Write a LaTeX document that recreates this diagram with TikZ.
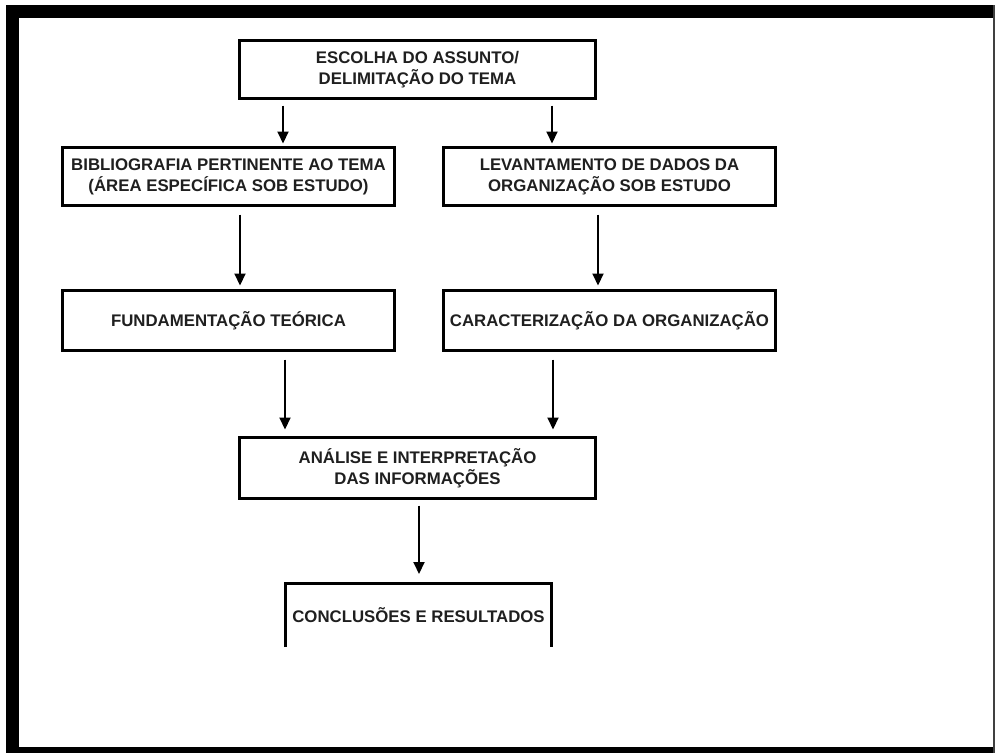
\documentclass[tikz,border=0pt]{standalone}
\usepackage{fontspec}
\setmainfont{Liberation Sans}
\usetikzlibrary{arrows.meta,calc}

\tikzset{
  stepbox/.style={draw=black, line width=3pt, fill=white, rectangle,
    inner sep=0pt, outer sep=0pt, align=center, text=black!88,
    font=\fontsize{16.8}{21}\selectfont\bfseries},
  openbox/.style={rectangle, inner sep=0pt, outer sep=0pt, align=center,
    text=black!88, font=\fontsize{16.8}{21}\selectfont\bfseries},
  flow/.style={line width=2pt, -{Triangle[length=12pt,width=11pt]}},
}

\begin{document}
\begin{tikzpicture}[x=1pt,y=-1pt]
  \useasboundingbox (0,0) rectangle (995,753);
  \fill[white] (0,0) rectangle (995,753);

  % outer frame
  \fill[black] (6,5) rectangle (995,18);
  \fill[black] (6,5) rectangle (19,753);
  \fill[black] (6,747) rectangle (995,753);
  \fill[black!75] (993,5) rectangle (995,753);

  % boxes
  \node[stepbox, minimum width=356pt, minimum height=58pt] (b1) at (417.5,69.5)
    {ESCOLHA DO ASSUNTO/\\DELIMITAÇÃO DO TEMA};
  \node[stepbox, minimum width=332pt, minimum height=58pt] (b2) at (228.5,176.5)
    {BIBLIOGRAFIA PERTINENTE AO TEMA\\(ÁREA ESPECÍFICA SOB ESTUDO)};
  \node[stepbox, minimum width=332pt, minimum height=58pt] (b3) at (609.5,176.5)
    {LEVANTAMENTO DE DADOS DA\\ORGANIZAÇÃO SOB ESTUDO};
  \node[stepbox, minimum width=332pt, minimum height=60pt] (b4) at (228.5,320.5)
    {FUNDAMENTAÇÃO TEÓRICA};
  \node[stepbox, minimum width=332pt, minimum height=60pt] (b5) at (609.5,320.5)
    {CARACTERIZAÇÃO DA ORGANIZAÇÃO};
  \node[stepbox, minimum width=356pt, minimum height=61pt] (b6) at (417.5,468)
    {ANÁLISE E INTERPRETAÇÃO\\DAS INFORMAÇÕES};
  \node[openbox, minimum width=266pt, minimum height=64pt] (b7) at (418.5,615)
    {CONCLUSÕES E RESULTADOS};
  \draw[line width=3pt] (b7.south west) -- (b7.north west) -- (b7.north east) -- (b7.south east);

  % connectors
  \draw[flow, shorten <=7pt, shorten >=4pt]
    ($(b1.south west)+(43.5,0)$) -- ($(b2.north west)+(220.5,0)$);
  \draw[flow, shorten <=7pt, shorten >=4pt]
    ($(b1.south west)+(312.5,0)$) -- ($(b3.north west)+(108.5,0)$);
  \draw[flow, shorten <=9pt, shorten >=5pt]
    ($(b2.south west)+(177.5,0)$) -- ($(b4.north west)+(177.5,0)$);
  \draw[flow, shorten <=9pt, shorten >=5pt]
    ($(b3.south west)+(154.5,0)$) -- ($(b5.north west)+(154.5,0)$);
  \draw[flow, shorten <=9pt, shorten >=8pt]
    ($(b4.south west)+(222.5,0)$) -- ($(b6.north west)+(45.5,0)$);
  \draw[flow, shorten <=9pt, shorten >=8pt]
    ($(b5.south west)+(109.5,0)$) -- ($(b6.north west)+(313.5,0)$);
  \draw[flow, shorten <=7pt, shorten >=9pt]
    ($(b6.south west)+(179.5,0)$) -- ($(b7.north west)+(133.5,0)$);
\end{tikzpicture}
\end{document}
